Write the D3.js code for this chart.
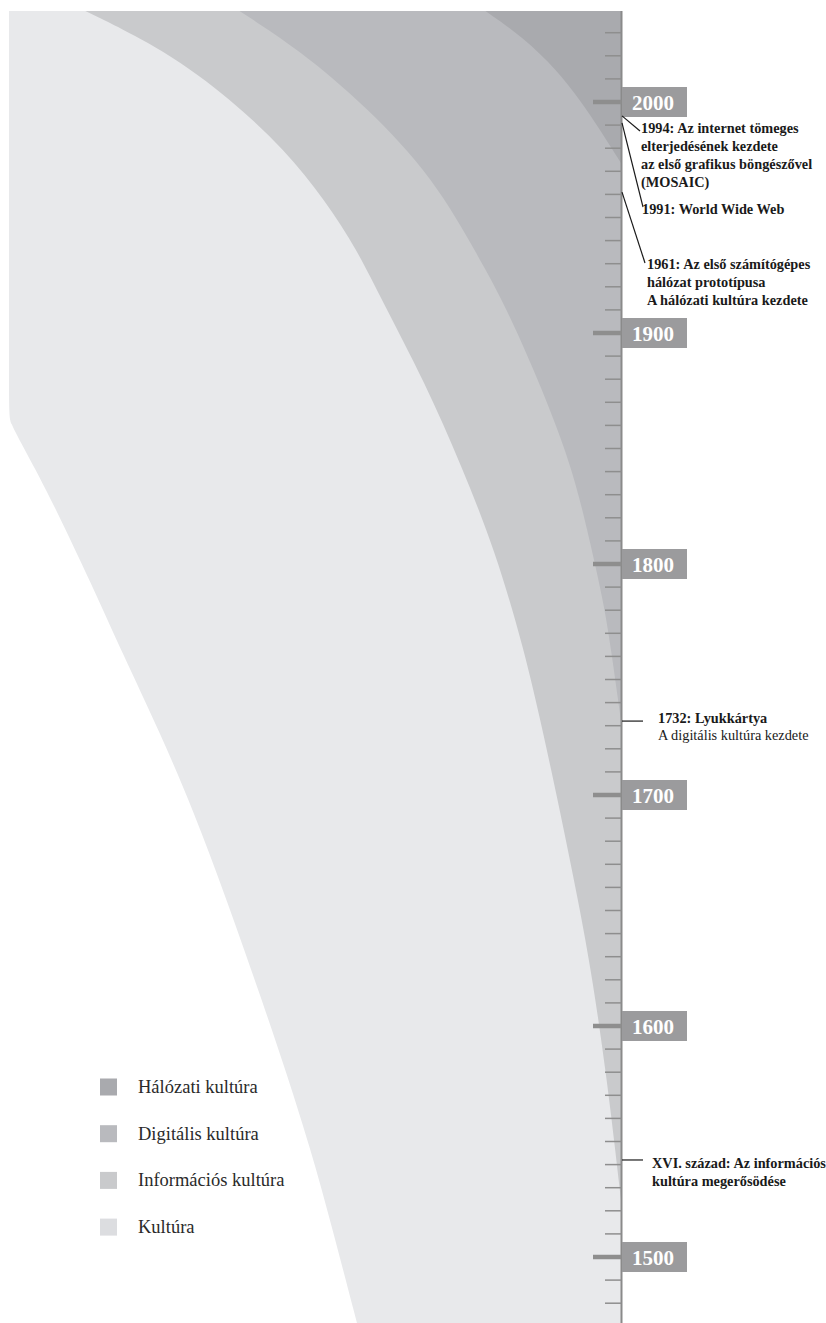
<!DOCTYPE html>
<html>
<head>
<meta charset="utf-8">
<script src="https://cdn.jsdelivr.net/npm/d3@7/dist/d3.min.js"></script>
<style>
  html, body { margin: 0; padding: 0; background: #ffffff; }
  svg { display: block; }
</style>
</head>
<body>
<script>
// ---------------- DATA ----------------
// Band edges: [year, distance from the time axis (0..100)]
const kulturaEdge = [[2039.5,100],[1866,100],[1862,100],[1849.4,97.4],[1827.7,93.0],[1783.1,85.1],[1762.8,81.7],[1726.8,75.3],[1693.5,69.9],[1654.5,64.4],[1611.3,58.7],[1584,55.2],[1547.6,50.8],[1511.7,47.1],[1471,43.1]];
const informaciosEdge = [[2039.5,87.6],[2022.5,74.5],[2000.9,63.6],[1979.2,54.9],[1957.6,48.4],[1935.9,43.1],[1914.3,39.1],[1878.4,32.0],[1842,26.0],[1806.1,20.6],[1762.8,15.8],[1726.8,12.7],[1693.5,10.0],[1654.5,7.0],[1619.9,4.6],[1576.6,2.3],[1547.6,1.0],[1524.7,0]];
const digitalisEdge = [[2039.5,62.4],[2022.5,52.5],[1997.8,41.5],[1967.5,30.7],[1931.6,23.0],[1914.3,19.4],[1885.3,14.4],[1849.4,9.0],[1827.7,6.7],[1813.4,5.4],[1784.4,2.9],[1762.8,1.6],[1732,0]];
const halozatiEdge = [[2039.5,22.2],[2028.1,16.0],[2013.9,10.5],[2000.9,6.7],[1987.9,3.4],[1973.6,0]];

const legendLabels = ["Hálózati kultúra","Digitális kultúra","Információs kultúra","Kultúra"];
const majorYears = [2000,1900,1800,1700,1600,1500];
const minorYears = d3.range(1480, 2031, 10);

const notes = [
  {year:1994, lines:["1994: Az internet tömeges","elterjedésének kezdete","az első grafikus böngészővel","(MOSAIC)"], bold:[1,1,1,1]},
  {year:1991, lines:["1991: World Wide Web"], bold:[1]},
  {year:1961, lines:["1961: Az első számítógépes","hálózat prototípusa","A hálózati kultúra kezdete"], bold:[1,1,1]},
  {year:1732, lines:["1732: Lyukkártya","A digitális kultúra kezdete"], bold:[1,0]},
  {year:1542, lines:["XVI. század: Az információs","kultúra megerősödése"], bold:[1,1]}
];

// ---------------- LAYOUT / STYLE ----------------
const W = 826, H = 1323;
const axisX = 621.5;
const bandColors = ["#e8e9eb","#c9cacc","#b9babe","#a9aaae"];
const legendColors = ["#a9aaae","#b9babe","#c9cacc","#dcdde0"];
const font = "'Liberation Serif','Times New Roman',serif";

const noteLayout = {
  1994: {type:"diag", ex:640, ey:131, tx:641, ty:133, lh:18},
  1991: {type:"diag", ex:643, ey:207, tx:642, ty:214, lh:18},
  1961: {type:"diag", ex:645, ey:263, tx:647, ty:269, lh:18},
  1732: {type:"flat", ex:643, tx:658, ty:723, lh:17},
  1542: {type:"flat", ex:643, tx:652, ty:1168, lh:18}
};

const svg = d3.select("body").append("svg").attr("width", W).attr("height", H);

const y = d3.scaleLinear().domain([2000, 1500]).range([102, 1257]);
const x = d3.scaleLinear().domain([0, 100]).range([axisX - 0.5, 9]);

svg.append("defs").append("clipPath").attr("id","clip")
  .append("rect").attr("x", 9).attr("y", 11).attr("width", axisX - 9).attr("height", H - 11);

const area = d3.area()
  .y(d => y(d[0]))
  .x0(d => x(d[1]))
  .x1(() => x(0))
  .curve(d3.curveBasis);

const bands = svg.append("g").attr("clip-path","url(#clip)");
[kulturaEdge, informaciosEdge, digitalisEdge, halozatiEdge].forEach((edge, i) => {
  bands.append("path").attr("d", area(edge)).attr("fill", bandColors[i]);
});

// axis line
svg.append("line").attr("x1", axisX).attr("x2", axisX).attr("y1", 11).attr("y2", H)
  .attr("stroke", "#8a8a8a").attr("stroke-width", 2);

// minor ticks
svg.append("g").selectAll("line").data(minorYears.filter(v => !majorYears.includes(v))).join("line")
  .attr("x1", 605).attr("x2", axisX).attr("y1", d => y(d)).attr("y2", d => y(d))
  .attr("stroke", "#8e8e8e").attr("stroke-width", 1.5);

// major ticks + label boxes
const maj = svg.append("g").selectAll("g").data(majorYears).join("g");
maj.append("line").attr("x1", 593).attr("x2", axisX).attr("y1", d => y(d)).attr("y2", d => y(d))
  .attr("stroke", "#8e8e8e").attr("stroke-width", 4.5);
maj.append("rect").attr("x", axisX + 0.5).attr("y", d => y(d) - 15).attr("width", 65).attr("height", 30)
  .attr("fill", "#9b9b9d");
maj.append("text").attr("x", 632).attr("y", d => y(d) + 7.5)
  .attr("font-family", font).attr("font-weight", "bold").attr("font-size", 21)
  .attr("fill", "#ffffff").text(d => d);

// notes
const ng = svg.append("g");
notes.forEach(n => {
  const L = noteLayout[n.year];
  const y0 = y(n.year);
  ng.append("line").attr("x1", axisX + 0.5).attr("y1", y0)
    .attr("x2", L.ex).attr("y2", L.type === "flat" ? y0 : L.ey)
    .attr("stroke", "#1a1a1a").attr("stroke-width", 1.2);
  const t = ng.append("text").attr("font-family", font).attr("font-size", 14.3).attr("fill", "#1a1a1a");
  n.lines.forEach((ln, i) => {
    t.append("tspan").attr("x", L.tx).attr("y", L.ty + i * L.lh)
      .attr("font-weight", n.bold[i] ? "bold" : "normal").text(ln);
  });
});

// legend
const lg = svg.append("g").selectAll("g").data(legendLabels).join("g")
  .attr("transform", (d, i) => `translate(100, ${1087 + i * 46.7})`);
lg.append("rect").attr("x", 0).attr("y", -8.5).attr("width", 17).attr("height", 17)
  .attr("fill", (d, i) => legendColors[i]);
lg.append("text").attr("x", 38).attr("y", 6).attr("font-family", font).attr("font-size", 18.5)
  .attr("fill", "#2a2a2a").text(d => d);
</script>
</body>
</html>
